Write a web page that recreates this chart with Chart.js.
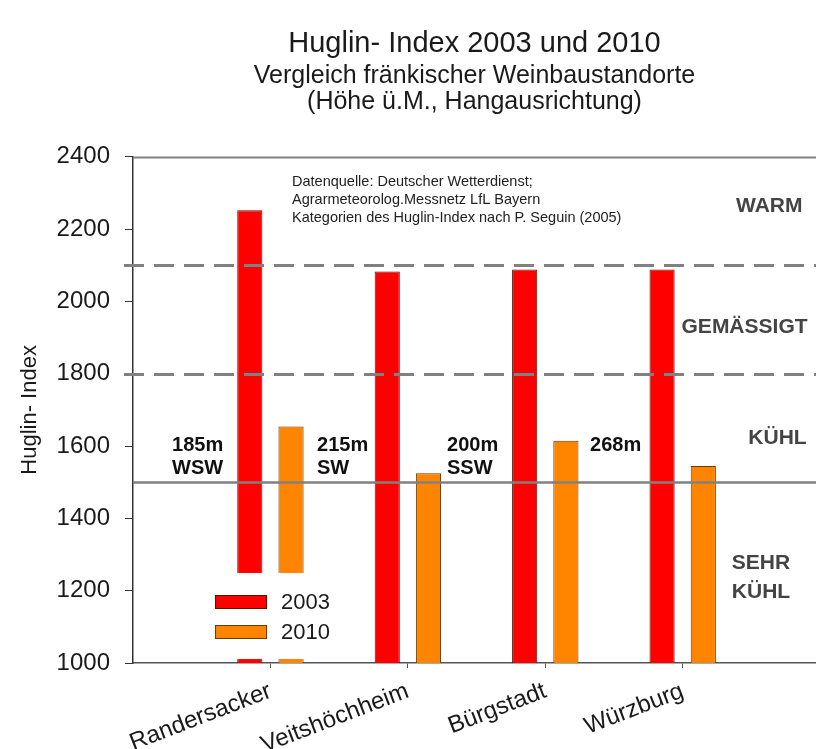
<!DOCTYPE html>
<html>
<head>
<meta charset="utf-8">
<script src="https://cdn.jsdelivr.net/npm/chart.js@4/dist/chart.umd.min.js"></script>
<style>
	html, body { margin: 0; padding: 0; background: #fff; }
</style>
</head>
<body>
<canvas id="chart" width="816" height="749"></canvas>
<script>
// values
const categories = ['Randersacker', 'Veitshöchheim', 'Bürgstadt', 'Würzburg'];
const huglin2003 = [2252, 2083, 2088, 2088];
const huglin2010 = [1654, 1525, 1615, 1545];
const seriesLabels = ['2003', '2010'];
const siteNotes = [['185m', 'WSW'], ['215m', 'SW'], ['200m', 'SSW'], ['268m']];
const dashedBounds = [2100, 1800];
const solidBound = 1500;
const classNames = [['WARM'], ['GEMÄSSIGT'], ['KÜHL'], ['SEHR', 'KÜHL']];
const sourceLines = [
	'Datenquelle: Deutscher Wetterdienst;',
	'Agrarmeteorolog.Messnetz LfL Bayern',
	'Kategorien des Huglin-Index nach P. Seguin (2005)'
];

const FONT = '"Liberation Sans", Arial, sans-serif';
Chart.defaults.font.family = FONT;
Chart.defaults.color = '#1a1a1a';

const toPoints = arr => arr.map((v, i) => ({ x: i + 1, y: v }));

// reference lines, legend box and notes drawn on top of the bars
const overlay = {
	id: 'overlay',
	afterDatasetsDraw(chart) {
		const { ctx, chartArea: a, scales: { x, y } } = chart;
		const W = chart.width;
		const hline = (x0, yv) => {
			const py = Math.round(y.getPixelForValue(yv)) + 0.5;
			ctx.beginPath();
			ctx.moveTo(x0, py);
			ctx.lineTo(W, py);
			ctx.stroke();
		};
		ctx.save();
		ctx.strokeStyle = '#808080';
		ctx.lineWidth = 2;
		hline(a.left, y.max);
		ctx.lineWidth = 3;
		ctx.setLineDash([20, 10]);
		dashedBounds.forEach(v => hline(a.left - 9, v));
		ctx.setLineDash([]);
		ctx.lineWidth = 2.5;
		hline(a.left, solidBound);

		// legend box (white, hides the foot of the first pair of bars)
		const bx0 = x.getPixelForValue(0.5), bx1 = x.getPixelForValue(1.3);
		const by0 = y.getPixelForValue(1249), by1 = y.getPixelForValue(1011);
		ctx.fillStyle = '#fff';
		ctx.fillRect(bx0, by0, bx1 - bx0, by1 - by0);
		const lx = x.getPixelForValue(0.597);
		chart.data.datasets.forEach((ds, i) => {
			const top = 595 + i * 30;
			ctx.fillStyle = ds.backgroundColor;
			ctx.fillRect(lx, top, 52, 14);
			ctx.strokeStyle = ds.borderColor;
			ctx.lineWidth = 1;
			ctx.strokeRect(lx + 0.5, top + 0.5, 51, 13);
			ctx.fillStyle = '#1a1a1a';
			ctx.font = '22px ' + FONT;
			ctx.textAlign = 'left';
			ctx.textBaseline = 'middle';
			ctx.fillText(ds.label, lx + 66, top + 8);
		});

		// site elevation / exposure
		const noteX = [0.284, 1.339, 2.285, 3.326];
		ctx.fillStyle = '#111';
		ctx.font = 'bold 20px ' + FONT;
		siteNotes.forEach((lines, i) => {
			lines.forEach((t, j) => ctx.fillText(t, x.getPixelForValue(noteX[i]), 445 + j * 23));
		});

		// Huglin classes
		const classPos = [[4.63, 2262], [4.45, 1930], [4.69, 1623], [4.57, 1277]];
		ctx.fillStyle = '#444';
		ctx.font = 'bold 21px ' + FONT;
		ctx.textAlign = 'center';
		classNames.forEach((lines, i) => {
			const [cx, cy] = classPos[i];
			lines.forEach((t, j) => ctx.fillText(t, x.getPixelForValue(cx), y.getPixelForValue(cy) + j * 29));
		});

		// data source
		ctx.fillStyle = '#222';
		ctx.font = '14.5px ' + FONT;
		ctx.textAlign = 'left';
		sourceLines.forEach((t, j) => ctx.fillText(t, x.getPixelForValue(1.157), 182 + j * 18));
		ctx.restore();
	}
};

new Chart(document.getElementById('chart'), {
	type: 'bar',
	data: {
		datasets: [
			{
				label: seriesLabels[0],
				data: toPoints(huglin2003),
				backgroundColor: '#ff0000',
				borderColor: '#5a1200',
				borderWidth: 1,
				categoryPercentage: 0.6,
				barPercentage: 0.61,
			},
			{
				label: seriesLabels[1],
				data: toPoints(huglin2010),
				backgroundColor: '#ff8400',
				borderColor: '#6b3a00',
				borderWidth: 1,
				categoryPercentage: 0.6,
				barPercentage: 0.61,
			}
		]
	},
	options: {
		responsive: false,
		animation: false,
		layout: { padding: 0 },
		plugins: {
			legend: { display: false },
			tooltip: { enabled: false },
			title: {
				display: true,
				fullSize: false,
				text: 'Huglin- Index 2003 und 2010',
				color: '#1a1a1a',
				font: { size: 29, weight: 'normal', lineHeight: 1.2 },
				padding: { top: 27, bottom: 0 },
			},
			subtitle: {
				display: true,
				fullSize: false,
				text: ['Vergleich fränkischer Weinbaustandorte', '(Höhe ü.M., Hangausrichtung)'],
				color: '#1a1a1a',
				font: { size: 25, lineHeight: 1.06 },
				padding: { top: 1, bottom: 41 },
			},
		},
		scales: {
			x: {
				type: 'linear',
				min: 0,
				max: 4.97,
				offset: false,
				afterFit: s => { s.height = 86; },
				afterBuildTicks: s => { s.ticks = categories.map((c, i) => ({ value: i + 1 })); },
				grid: { drawOnChartArea: false, offset: false, tickLength: 5, color: '#555' },
				border: { display: true, color: '#555', width: 1.5 },
				ticks: {
					autoSkip: false,
					minRotation: 21,
					maxRotation: 21,
					padding: 9,
					color: '#1a1a1a',
					font: { size: 24 },
					callback: v => categories[v - 1] || '',
				},
			},
			y: {
				min: 1000,
				max: 2400,
				afterFit: s => { s.width = 133; },
				grid: { drawOnChartArea: false, tickLength: 8, color: '#333' },
				border: { display: true, color: '#333', width: 1.5 },
				ticks: { stepSize: 200, padding: 15, color: '#1a1a1a', font: { size: 24 }, callback: v => String(v) },
				title: {
					display: true,
					text: 'Huglin- Index',
					color: '#1a1a1a',
					font: { size: 22, lineHeight: 1.2 },
					padding: { top: 17, bottom: 0 },
				},
			},
		},
	},
	plugins: [overlay],
});
</script>
</body>
</html>
